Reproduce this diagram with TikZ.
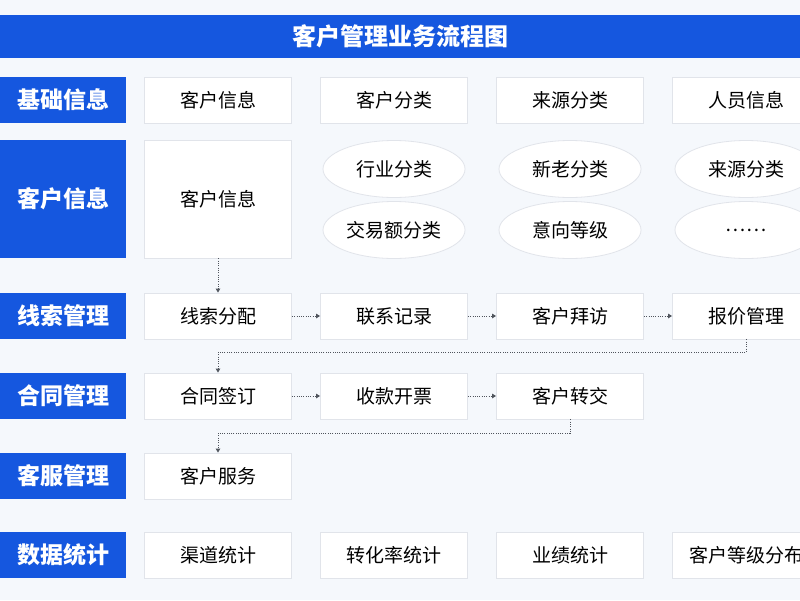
\documentclass[tikz,border=0pt]{standalone}
\usepackage{fontspec}
\setmainfont{Noto Sans CJK SC}
\usetikzlibrary{calc,positioning,shapes.geometric,arrows.meta}
\definecolor{flowblue}{HTML}{1557DF}
\definecolor{pagebg}{HTML}{F5F8FC}
\definecolor{boxline}{HTML}{E1E4EA}
\definecolor{arrowgray}{HTML}{50555D}
\tikzset{
  lane label/.style={fill=flowblue, text=white, minimum width=126pt, minimum height=46pt,
    inner sep=0pt, font=\fontsize{23}{23}\selectfont\bfseries},
  item box/.style={draw=boxline, line width=0.8pt, fill=white, minimum width=147pt,
    minimum height=46pt, inner sep=0pt, font=\fontsize{19}{19}\selectfont},
  tag oval/.style={ellipse, draw=boxline, line width=0.8pt, fill=white, minimum width=142pt,
    minimum height=57pt, inner sep=0pt, font=\fontsize{19}{19}\selectfont},
  flow arrow/.style={draw=arrowgray, line width=0.9pt, dash pattern=on 1pt off 1.3pt,
    -{Triangle[length=4pt,width=4.5pt]}}
}

\begin{document}
\begin{tikzpicture}[x=1pt,y=-1pt]

  \useasboundingbox (0,0) rectangle (800,600);
  \clip (0,0) rectangle (800,600);
  \fill[pagebg] (0,0) rectangle (800,600);

  % title bar
  \node [fill=flowblue, text=white, minimum width=800pt, minimum height=43pt, inner sep=0pt,
    font=\fontsize{24}{24}\selectfont\bfseries] at(400,36.5) (title) {客户管理业务流程图};

  % lane labels on the left
  \node [lane label] at(63,100) (lane_base) {基础信息};
  \node [lane label, minimum height=118pt] at(63,199) (lane_cust) {客户信息};
  \node [lane label] at(63,316) (lane_lead) {线索管理};
  \node [lane label] at(63,396) (lane_contract) {合同管理};
  \node [lane label] at(63,476) (lane_service) {客服管理};
  \node [lane label] at(63,555) (lane_stats) {数据统计};

  % basic info row
  \foreach \c/\t in {0/客户信息,1/客户分类,2/来源分类,3/人员信息}
  {
    \node [item box] at($(218,100)+(176*\c,0)$) (base_\c) {\t};
  }

  % customer info block
  \node [item box, minimum height=118pt] at(218,199) (cust_info) {客户信息};
  \foreach \c/\t/\b in {1/行业分类/交易额分类,2/新老分类/意向等级,3/来源分类/……}
  {
    \node [tag oval] at($(218,169)+(176*\c,0)$) (tag_a_\c) {\t};
    \node [tag oval] at($(218,230)+(176*\c,0)$) (tag_b_\c) {\b};
  }

  % lead, contract, service and stats rows
  \foreach \c/\t in {0/线索分配,1/联系记录,2/客户拜访,3/报价管理}
  {
    \node [item box] at($(218,316)+(176*\c,0)$) (lead_\c) {\t};
  }
  \foreach \c/\t in {0/合同签订,1/收款开票,2/客户转交}
  {
    \node [item box] at($(218,396)+(176*\c,0)$) (contract_\c) {\t};
  }
  \node [item box] at(218,476) (service_0) {客户服务};
  \foreach \c/\t in {0/渠道统计,1/转化率统计,2/业绩统计,3/客户等级分布}
  {
    \node [item box] at($(218,555)+(176*\c,0)$) (stats_\c) {\t};
  }

  % connectors
  \draw[flow arrow] (cust_info.south) -- (lead_0.north);
  \foreach \c/\n in {0/1,1/2,2/3}
  {
    \draw[flow arrow] (lead_\c.east) -- (lead_\n.west);
  }
  \draw[flow arrow] (lead_3.south) -- ++(0,13) -| (contract_0.north);
  \foreach \c/\n in {0/1,1/2}
  {
    \draw[flow arrow] (contract_\c.east) -- (contract_\n.west);
  }
  \draw[flow arrow] (contract_2.south) -- ++(0,14) -| (service_0.north);
\end{tikzpicture}
\end{document}
